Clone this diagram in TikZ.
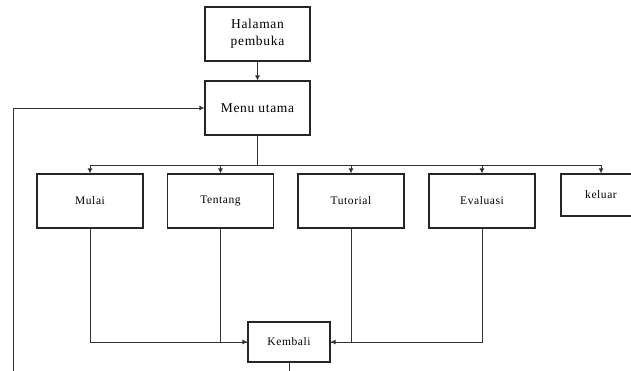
\documentclass[tikz,border=0pt]{standalone}
\usepackage{fontspec}
\setmainfont{Liberation Serif}
\newfontfamily\bigsp[LetterSpace=5]{Liberation Serif}
\newfontfamily\smallsp[LetterSpace=5]{Liberation Serif}
\usetikzlibrary{arrows.meta}
\begin{document}
\begin{tikzpicture}[x=1pt,y=-1pt,
  bigbox/.style={draw=black!85,line width=1.1pt,rectangle,minimum width=105pt,minimum height=54pt,inner sep=0pt,align=center,font=\bigsp\fontsize{13.5}{17}\selectfont},
  smallbox/.style={draw=black!85,line width=1.1pt,rectangle,minimum width=106pt,minimum height=54pt,inner sep=0pt,align=center,font=\smallsp\fontsize{11.5}{13}\selectfont},
  conn/.style={draw=black!80,line width=0.9pt},
  arr/.style={conn,-{Latex[length=5pt,width=5pt]}}]
\useasboundingbox (0,0) rectangle (631,370);
\clip (0,0) rectangle (631,370);
\node[bigbox] (hal) at (257.5,34) {Halaman\\pembuka};
\node[bigbox] (menu) at (257.5,108) {Menu utama};
\node[smallbox] (mulai) at (90,201) {Mulai};
\node[smallbox] (tentang) at (220.5,201) {Tentang};
\node[smallbox] (tutorial) at (351,201) {Tutorial};
\node[smallbox] (evaluasi) at (482,201) {Evaluasi};
\node[smallbox,minimum width=80pt,minimum height=42pt] (keluar) at (601,195) {keluar};
\node[smallbox,minimum width=82pt,minimum height=40pt] (kembali) at (289,342) {Kembali};
\coordinate (bus) at (257.5,165);
\coordinate (kb) at (289,375);
\coordinate (lb) at (13,375);
\draw[arr] (hal.south) -- (menu.north);
\draw[conn] (menu.south) -- (bus);
\draw[arr] (bus) -| (mulai.north);
\draw[arr] (bus) -| (tentang.north);
\draw[arr] (bus) -| (tutorial.north);
\draw[arr] (bus) -| (evaluasi.north);
\draw[arr] (bus) -| (keluar.north);
\draw[arr] (mulai.south) |- (kembali.west);
\draw[conn] (tentang.south) |- (kembali.west);
\draw[arr] (evaluasi.south) |- (kembali.east);
\draw[conn] (tutorial.south) |- (kembali.east);
\draw[conn] (kembali.south) -- (kb);
\draw[arr] (lb) |- (menu.west);
\end{tikzpicture}
\end{document}
